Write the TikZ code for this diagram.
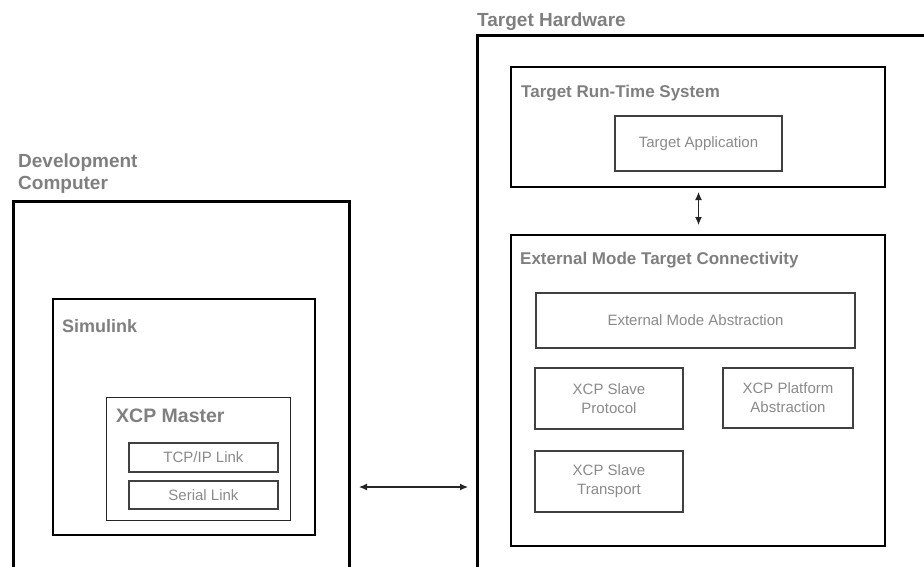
\documentclass[tikz,border=0pt]{standalone}
\usepackage{fontspec}
\setsansfont{Liberation Sans}
\usetikzlibrary{positioning, calc, arrows.meta}

\begin{document}
\begin{tikzpicture}[
  x=1pt, y=-1pt,
  font=\sffamily,
  >={Latex[length=8pt,width=7pt]},
  hwbox/.style={draw=black, line width=3pt, anchor=north west, inner sep=0pt},
  groupbox/.style={draw=black, line width=2pt, anchor=north west, inner sep=0pt},
  partbox/.style={draw=black!75, line width=1.2pt, align=center, inner sep=0pt,
                  text=cText, font=\sffamily\fontsize{15}{19}\selectfont},
  grouplabel/.style={anchor=north west, inner sep=0pt, align=left, text=cLabel,
                     font=\sffamily\bfseries\fontsize{17}{22}\selectfont},
]

\definecolor{cLabel}{HTML}{7F7F7F}
\definecolor{cText} {HTML}{8A8A8A}

% page frame (outer boxes run off the edge)
\clip (0,0) rectangle (924,566);

% =====================================================================
% Development computer (left)
% =====================================================================
\node[hwbox, minimum width=336, minimum height=420] (devPC) at (12,200) {};
\node[grouplabel, font=\sffamily\bfseries\fontsize{19}{22}\selectfont]
  (devLabel) at (18,154) {Development\\Computer};

\node[groupbox, minimum width=262, minimum height=236] (simulink) at (52,298) {};
\node[grouplabel, font=\sffamily\bfseries\fontsize{18}{22}\selectfont]
  (simLabel) at (62,319) {Simulink};

\node[draw=black!85, line width=1.2pt, anchor=north west, inner sep=0pt,
      minimum width=184, minimum height=123] (master) at (106,397) {};
\node[grouplabel, font=\sffamily\bfseries\fontsize{19.5}{22}\selectfont]
  (masterLabel) at (116,409) {XCP Master};

\node[partbox, minimum width=149, minimum height=29] (tcp)    at (203.5,457.5) {TCP/IP Link};
\node[partbox, minimum width=149, minimum height=28] (serial) at (203.5,495)   {Serial Link};

% =====================================================================
% Target hardware (right)
% =====================================================================
\node[hwbox, minimum width=500, minimum height=600] (tgtHW) at (476,34) {};
\node[grouplabel, font=\sffamily\bfseries\fontsize{19}{22}\selectfont]
  (hwLabel) at (477,13) {Target Hardware};

% run-time system
\node[groupbox, minimum width=374, minimum height=120] (rts) at (510,66) {};
\node[grouplabel] (rtsLabel) at (521,85) {Target Run-Time System};
\node[partbox, minimum width=167, minimum height=55] (app) at (698.5,143.5) {Target Application};

% connectivity
\node[groupbox, minimum width=374, minimum height=311] (emtc) at (510,234) {};
\node[grouplabel] (emtcLabel) at (520,252) {External Mode Target Connectivity};

\node[partbox, minimum width=319, minimum height=55] (emAbs)      at (695.5,320.5) {External Mode Abstraction};
\node[partbox, minimum width=148, minimum height=61] (slaveProt)  at (609,398.5)   {XCP Slave\\Protocol};
\node[partbox, minimum width=130, minimum height=60] (platAbs)    at (788,398)     {XCP Platform\\Abstraction};
\node[partbox, minimum width=148, minimum height=61] (slaveTrans) at (609,481.5)   {XCP Slave\\Transport};

% =====================================================================
% links
% =====================================================================
\coordinate (linkY) at (0,487);
\draw[<->, line width=1.1pt, black!85]
  ([xshift=8pt]devPC.east |- linkY) -- ([xshift=-8pt]tgtHW.west |- linkY);

\draw[<->, line width=1.1pt, black!85]
  ([yshift=-4pt]rts.south -| app) -- ([yshift=9pt]emtc.north -| app);

\end{tikzpicture}
\end{document}
